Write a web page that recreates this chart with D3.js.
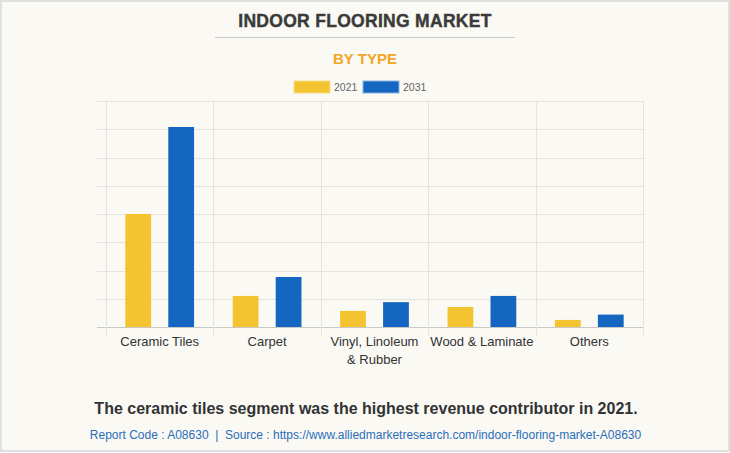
<!DOCTYPE html>
<html><head><meta charset="utf-8">
<script src="https://cdn.jsdelivr.net/npm/d3@7"></script>
<style>
html,body{margin:0;padding:0;background:#fff;}
svg{display:block;font-family:"Liberation Sans",Arial,sans-serif;}
</style></head>
<body>
<svg id="c" width="730" height="453"></svg>
<script>
const categories = ["Ceramic Tiles", "Carpet", "Vinyl, Linoleum\n& Rubber", "Wood & Laminate", "Others"];
const seriesNames = ["2021", "2031"];
const values2021 = [4.0, 1.1, 0.57, 0.71, 0.25];
const values2031 = [7.08, 1.77, 0.88, 1.1, 0.44];
const colors = ["#f4c430", "#1466c1"];
const yTicks = [0, 1, 2, 3, 4, 5, 6, 7, 8];

(function () {
const svg = d3.select("#c");
const W = 730, H = 453;
svg.append("rect").attr("x", 1).attr("y", 1).attr("width", W - 2).attr("height", H - 3)
  .attr("fill", "#faf9f4").attr("stroke", "#e0e0e0").attr("stroke-width", 2);

// Title
svg.append("text").attr("x", 365).attr("y", 27).attr("text-anchor", "middle")
  .attr("font-size", 17.5).attr("font-weight", "bold").attr("fill", "#3a3a3a")
  .attr("stroke", "#3a3a3a").attr("stroke-width", 0.4)
  .attr("letter-spacing", 0.3).text("INDOOR FLOORING MARKET");
svg.append("line").attr("x1", 215).attr("x2", 515).attr("y1", 37.5).attr("y2", 37.5)
  .attr("stroke", "#c8c8c8").attr("stroke-width", 1);
svg.append("text").attr("x", 365).attr("y", 64).attr("text-anchor", "middle")
  .attr("font-size", 15).attr("font-weight", "bold").attr("fill", "#f5a623")
  .text("BY TYPE");

// Legend
const legendX = [294, 363];
seriesNames.forEach((s, i) => {
  svg.append("rect").attr("x", legendX[i]).attr("y", 81).attr("width", 36).attr("height", 12)
    .attr("fill", colors[i]).attr("stroke", i ? "#8fb3e0" : "#f8de8a").attr("stroke-width", 1);
  svg.append("text").attr("x", legendX[i] + 40).attr("y", 91).attr("font-size", 10.5)
    .attr("fill", "#666").text(s);
});

// Plot
const pLeft = 106, pRight = 643, pTop = 101, pBottom = 327;
const x0 = d3.scaleBand().domain(categories).range([pLeft, pRight]).paddingInner(0).paddingOuter(0);
const x1 = d3.scaleBand().domain(seriesNames).range([0, x0.bandwidth() * 0.8]).paddingInner(0.4).paddingOuter(0.2);
const y = d3.scaleLinear().domain([0, 8]).range([pBottom, pTop]);

const g = svg.append("g");
g.selectAll(".hg").data(yTicks).join("line")
  .attr("x1", pLeft - 9).attr("x2", pRight)
  .attr("y1", d => Math.round(y(d)) + 0.5).attr("y2", d => Math.round(y(d)) + 0.5)
  .attr("stroke", d => d === 0 ? "#c8c8c8" : "#e4e3df").attr("stroke-width", 1);
const seps = categories.map(c => x0(c)).concat([pRight]);
g.selectAll(".vg").data(seps).join("line")
  .attr("x1", d => Math.round(d) + 0.5).attr("x2", d => Math.round(d) + 0.5)
  .attr("y1", pTop).attr("y2", pBottom + 8)
  .attr("stroke", "#e4e3df").attr("stroke-width", 1);

const data = categories.map((c, i) => ({c, v: [values2021[i], values2031[i]]}));
const groups = g.selectAll(".grp").data(data).join("g")
  .attr("transform", d => `translate(${x0(d.c) + x0.bandwidth() * 0.1},0)`);
groups.selectAll("rect").data(d => d.v.map((v, i) => ({s: seriesNames[i], v, i}))).join("rect")
  .attr("x", d => x1(d.s)).attr("width", x1.bandwidth())
  .attr("y", d => y(d.v)).attr("height", d => pBottom - y(d.v))
  .attr("fill", d => colors[d.i]);

categories.forEach(c => {
  const lines = c.split("\n");
  const t = svg.append("text").attr("text-anchor", "middle").attr("font-size", 13)
    .attr("fill", "#333");
  lines.forEach((l, k) => {
    t.append("tspan").attr("x", x0(c) + x0.bandwidth() / 2).attr("y", 346 + k * 18).text(l);
  });
});

svg.append("text").attr("x", 366).attr("y", 414).attr("text-anchor", "middle")
  .attr("font-size", 16).attr("font-weight", "bold").attr("fill", "#333")
  .text("The ceramic tiles segment was the highest revenue contributor in 2021.");
svg.append("text").attr("x", 365.5).attr("y", 439).attr("text-anchor", "middle")
  .attr("font-size", 12).attr("fill", "#2a6ebb").style("white-space", "pre")
  .text("Report Code : A08630  |  Source : https://www.alliedmarketresearch.com/indoor-flooring-market-A08630");
})();
</script>
</body></html>
